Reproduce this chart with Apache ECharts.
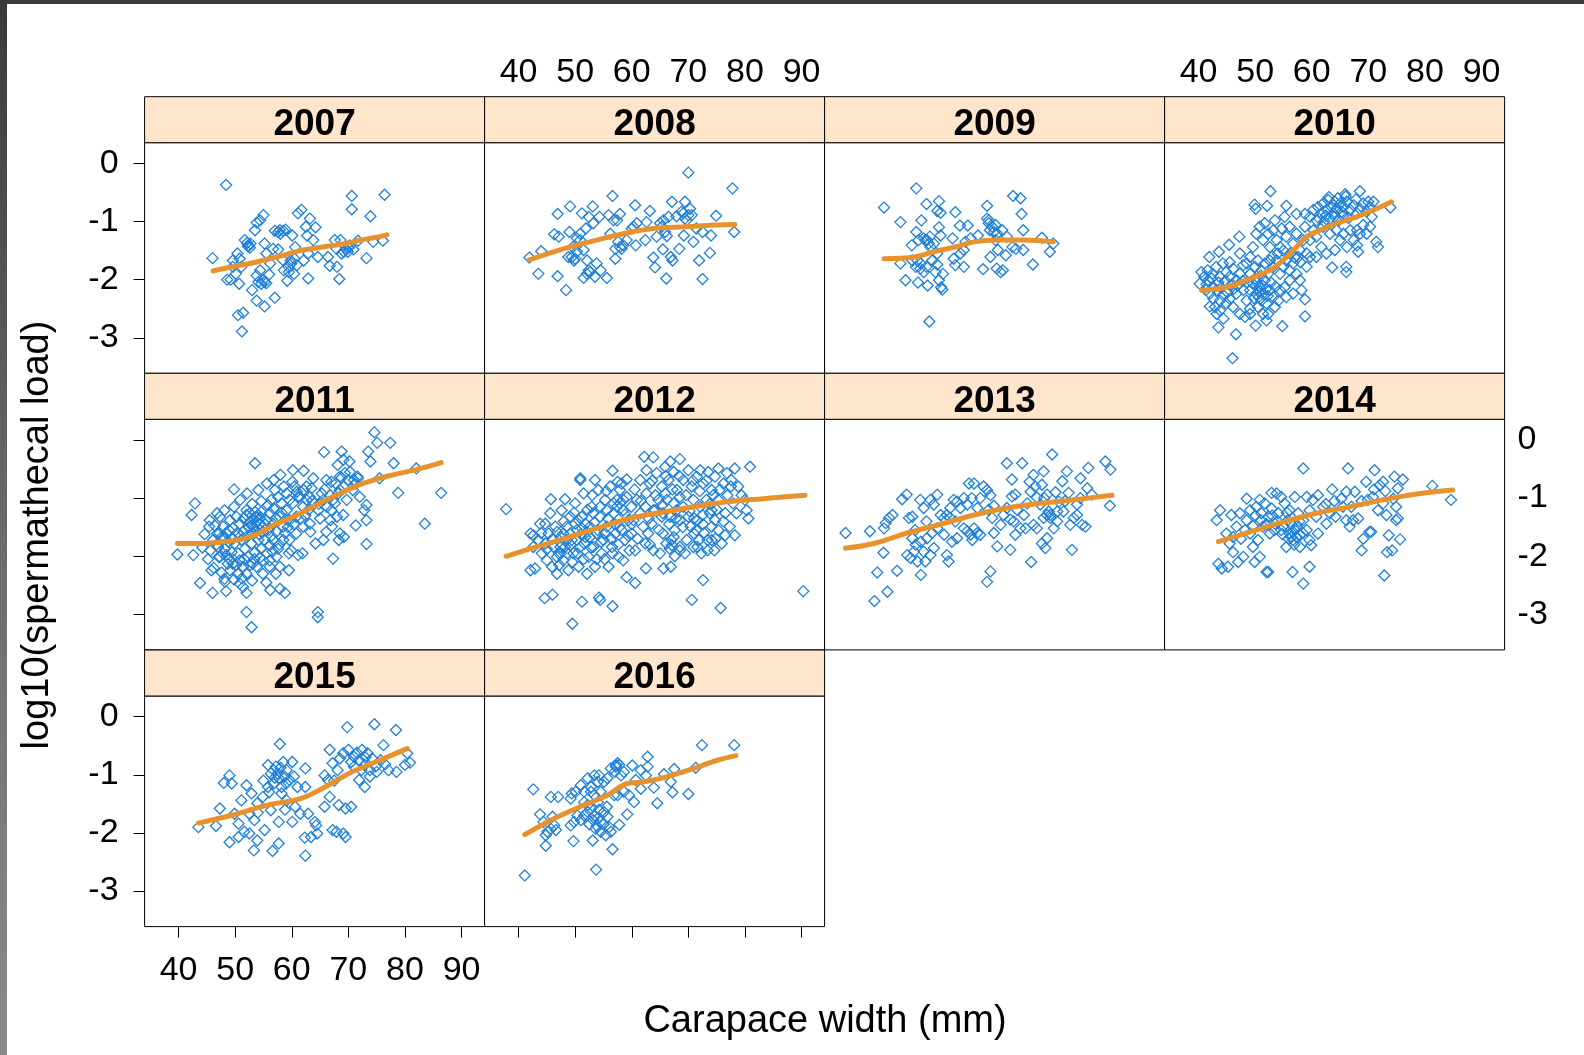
<!DOCTYPE html>
<html>
<head>
<meta charset="utf-8">
<script src="https://cdn.jsdelivr.net/npm/echarts@6/dist/echarts.min.js"></script>
<style>
html,body{margin:0;padding:0;background:#fff;}
#chart{width:1584px;height:1055px;}
</style>
</head>
<body>
<div id="chart"></div>
<script>
// ---------------- DATA ----------------
const years = ['2007','2008','2009','2010','2011','2012','2013','2014','2015','2016'];
const xTicks = [40,50,60,70,80,90];
const yTicks = [0,-1,-2,-3];
const xTitle = 'Carapace width (mm)';
const yTitle = 'log10(spermathecal load)';

const d2007 = [[48.4,-0.37],[46.0,-1.63],[48.6,-2.00],[49.2,-2.00],[49.6,-1.67],[50.4,-1.55],[50.7,-2.07],[50.5,-2.61],[51.4,-2.57],[51.2,-2.89],[51.7,-1.32],[52.3,-1.41],[52.7,-1.38],[53.5,-1.15],[53.8,-1.02],[53.0,-2.18],[53.8,-2.36],[54.4,-0.98],[55.0,-0.89],[55.2,-1.38],[55.2,-2.46],[55.5,-1.55],[54.4,-1.84],[54.9,-2.01],[55.5,-2.06],[56.0,-1.91],[56.2,-1.72],[56.7,-1.47],[57.0,-1.16],[57.6,-1.18],[57.0,-2.31],[57.6,-1.48],[58.0,-1.21],[58.4,-1.66],[58.6,-1.84],[58.9,-1.14],[59.2,-2.02],[59.4,-1.78],[59.8,-1.67],[60.1,-1.24],[60.4,-1.90],[60.6,-1.44],[60.9,-1.75],[61.1,-0.86],[61.7,-0.80],[62.1,-1.67],[62.5,-1.09],[62.7,-1.24],[62.9,-1.55],[62.9,-1.98],[63.2,-0.95],[63.8,-1.32],[64.2,-1.10],[64.6,-1.61],[66.4,-1.61],[66.7,-1.76],[67.6,-1.32],[68.0,-1.78],[68.4,-1.99],[68.6,-1.32],[69.2,-1.52],[69.6,-1.48],[70.1,-1.45],[70.6,-0.56],[70.6,-0.79],[70.9,-1.48],[71.7,-1.33],[73.2,-1.63],[73.9,-0.91],[74.4,-1.35],[76.1,-1.33],[76.4,-0.54],[52.3,-1.43],[52.6,-1.45],[52.1,-1.37],[54.1,-2.04],[54.6,-2.07],[55.2,-2.04],[53.8,-1.93],[57.9,-1.15],[58.5,-1.16],[59.5,-1.87],[59.9,-1.72],[60.5,-1.64],[67.9,-1.47],[68.8,-1.55],[69.9,-1.52],[70.2,-1.41],[49.6,-1.78],[50.1,-1.90],[51.1,-1.78],[50.8,-1.64]];
const s2007 = [[46.1,-1.85],[50,-1.77],[53.2,-1.71],[56,-1.64],[58.5,-1.58],[61.5,-1.5],[64,-1.46],[67.4,-1.41],[70,-1.37],[72.1,-1.32],[74.5,-1.28],[76.8,-1.23]];

const d2008 = [[41.9,-1.62],[43.5,-1.90],[44.0,-1.51],[46.9,-0.87],[46.9,-1.94],[46.3,-1.22],[47.1,-1.26],[48.4,-2.18],[49.1,-0.74],[49.0,-1.18],[49.6,-1.44],[48.8,-1.61],[49.8,-1.67],[50.3,-1.29],[50.9,-1.21],[51.2,-0.86],[51.9,-1.12],[52.4,-0.92],[51.5,-1.49],[52.1,-1.67],[51.5,-1.97],[52.4,-1.84],[53.1,-0.74],[53.5,-1.95],[53.8,-1.72],[53.2,-1.03],[54.3,-0.92],[54.5,-1.84],[55.6,-1.97],[55.9,-0.89],[56.2,-1.21],[56.6,-0.56],[56.8,-0.98],[57.1,-1.64],[57.1,-1.47],[57.6,-1.35],[57.9,-0.87],[58.2,-1.47],[59.1,-1.32],[60.0,-1.12],[60.6,-0.72],[60.7,-1.41],[60.9,-1.03],[62.4,-1.32],[62.6,-1.01],[63.2,-0.82],[63.8,-1.62],[64.1,-1.79],[64.4,-1.26],[65.0,-1.03],[65.5,-1.48],[65.6,-0.98],[66.1,-1.98],[66.2,-1.25],[66.5,-0.92],[67.1,-0.66],[66.9,-1.61],[67.2,-1.67],[67.9,-0.91],[68.4,-1.47],[68.8,-0.83],[69.2,-1.24],[69.4,-0.66],[69.7,-0.98],[70.0,-0.16],[70.3,-0.78],[70.6,-0.89],[70.9,-1.35],[71.4,-1.12],[71.9,-1.67],[72.5,-1.99],[72.5,-1.18],[73.8,-1.54],[74.0,-1.24],[74.9,-0.90],[77.8,-0.43],[78.1,-1.18],[49.4,-1.61],[50.0,-1.64],[50.3,-1.52],[50.9,-1.32],[52.6,-1.87],[52.1,-1.90],[57.4,-0.98],[57.9,-1.44],[58.5,-1.41],[60.3,-1.09],[65.3,-1.09],[65.9,-1.18],[69.1,-0.86],[70.0,-0.89],[69.4,-0.95]];
const s2008 = [[41.9,-1.66],[47.9,-1.47],[53.8,-1.32],[58.5,-1.21],[63.8,-1.12],[69.7,-1.09],[74.4,-1.06],[78.2,-1.05]];

const d2009 = [[44.5,-0.76],[47.4,-1.01],[50.2,-0.43],[51.1,-0.98],[52.0,-0.70],[54.2,-0.65],[53.9,-0.82],[54.5,-0.85],[57.1,-0.84],[57.9,-1.07],[59.3,-1.07],[62.7,-0.73],[67.3,-0.56],[68.6,-0.60],[68.8,-0.87],[69.1,-1.15],[72.4,-1.28],[49.4,-1.41],[50.2,-1.18],[50.6,-1.32],[51.5,-1.29],[52.1,-1.32],[52.6,-1.26],[52.7,-1.44],[53.3,-1.38],[54.2,-1.10],[54.5,-1.24],[53.9,-1.55],[47.4,-1.72],[48.3,-2.01],[49.5,-1.67],[50.1,-1.78],[50.5,-2.05],[51.0,-1.72],[51.5,-1.87],[52.0,-1.78],[52.2,-2.10],[53.0,-1.67],[53.6,-1.87],[53.9,-1.74],[54.2,-2.01],[54.6,-2.13],[54.8,-2.17],[54.9,-1.90],[52.5,-2.72],[56.6,-1.29],[56.8,-1.64],[57.1,-1.75],[58.0,-1.55],[58.6,-1.78],[58.6,-1.49],[58.9,-1.35],[59.8,-1.29],[61.1,-1.24],[62.0,-1.82],[62.7,-0.95],[63.0,-1.03],[63.3,-1.61],[63.9,-1.18],[64.2,-1.32],[64.4,-1.81],[64.6,-1.49],[65.1,-1.87],[65.4,-1.15],[65.5,-1.84],[66.0,-1.58],[66.2,-1.26],[67.2,-1.44],[67.8,-1.47],[69.1,-1.49],[70.8,-1.74],[73.8,-1.52],[74.4,-1.38],[63.0,-0.98],[63.6,-1.09],[64.2,-1.06],[63.2,-1.15],[64.5,-1.21],[51.8,-1.32],[52.4,-1.38],[50.4,-1.67],[50.9,-1.81]];
const s2009 = [[44.5,-1.64],[49.2,-1.62],[53.3,-1.52],[57.4,-1.43],[60.4,-1.35],[64.5,-1.32],[69.2,-1.32],[74.4,-1.35]];

const d2010 = [[52.7,-0.48],[49.9,-0.71],[50.1,-0.78],[52.1,-0.73],[55.5,-0.73],[57.3,-0.87],[58.8,-0.87],[65.9,-0.53],[68.5,-0.48],[73.9,-0.76],[71.4,-1.35],[71.7,-1.44],[68.2,-1.52],[68.0,-1.41],[66.1,-1.78],[66.1,-1.87],[63.6,-1.79],[58.8,-2.34],[58.8,-2.63],[54.8,-2.80],[52.0,-2.70],[50.1,-2.79],[46.6,-2.94],[46.0,-3.35],[43.5,-2.82],[42.0,-2.46],[40.5,-1.87],[41.9,-1.61],[43.6,-1.52],[45.4,-1.40],[47.2,-1.26],[47.3,-1.55],[40.2,-2.07],[45.5,-1.70],
[41.0,-1.95],[41.6,-1.84],[42.5,-1.90],[43.1,-1.78],[43.7,-1.95],[44.3,-1.72],[44.9,-1.87],[45.5,-1.95],[46.1,-1.81],[46.7,-2.01],[47.3,-1.90],[47.9,-1.75],[48.5,-1.72],[49.1,-1.90],[41.3,-2.18],[42.0,-2.24],[42.6,-2.33],[43.2,-2.18],[43.8,-2.36],[44.4,-2.27],[44.9,-2.41],[45.5,-2.33],[46.1,-2.47],[43.2,-2.59],[43.8,-2.53],[44.4,-2.67],[42.9,-2.47],[42.6,-2.13],[41.7,-2.01],[46.7,-2.24],[47.9,-2.18],[48.5,-2.36],[49.1,-2.50],[47.3,-2.59],[48.2,-2.64],[49.1,-2.59],
[49.1,-2.18],[49.6,-2.07],[50.2,-2.24],[50.8,-2.13],[51.4,-2.24],[51.7,-2.01],[51.1,-2.36],[50.5,-2.47],[52.0,-2.41],[52.6,-2.18],[53.2,-2.30],[53.5,-2.47],[54.1,-2.36],[54.4,-2.18],[52.3,-2.59],[51.4,-2.59],[49.1,-1.90],[50.0,-1.78],[50.5,-1.67],[51.1,-1.84],[51.7,-1.72],[52.3,-1.90],[52.6,-1.67],[53.2,-1.78],[53.8,-1.67],[54.4,-1.90],[55.0,-1.78],[55.5,-1.67],[56.1,-1.84],[56.7,-1.72],[57.3,-1.90],[57.9,-2.01],[58.2,-2.18],[57.6,-1.61],[56.1,-2.01],[55.2,-2.13],[55.5,-2.30],[56.7,-2.24],
[50.2,-1.21],[50.8,-1.09],[51.7,-1.03],[51.4,-1.32],[52.3,-1.21],[52.6,-1.44],[53.2,-1.15],[53.5,-0.98],[53.8,-1.32],[54.4,-1.44],[54.7,-1.12],[55.2,-0.92],[55.5,-1.26],[56.1,-1.09],[56.7,-1.38],[57.3,-1.21],[57.9,-1.49],[58.5,-1.32],[58.8,-1.09],[59.1,-1.55],[49.6,-1.44],[49.1,-1.61],
[59.7,-0.92],[60.3,-0.80],[60.8,-0.98],[61.1,-0.75],[61.7,-0.86],[62.0,-0.69],[62.6,-0.80],[62.9,-0.63],[63.5,-0.75],[63.8,-0.86],[64.1,-0.66],[64.4,-0.78],[65.0,-0.69],[65.3,-0.83],[65.6,-0.75],[66.2,-0.66],[66.8,-0.80],[67.4,-0.72],[68.0,-0.86],[68.5,-0.78],[69.1,-0.69],[69.7,-0.83],[70.3,-0.75],[70.6,-0.92],[70.0,-0.66],[70.9,-0.66],[60.3,-1.15],[60.8,-1.26],[61.7,-1.44],[62.0,-1.09],[62.6,-1.55],[63.2,-1.21],[64.1,-1.49],[64.4,-1.15],[65.0,-1.32],[65.6,-1.21],[66.2,-1.44],[66.8,-1.15],[67.4,-1.32],[68.0,-1.15],[68.5,-1.21],[69.1,-1.06],[69.7,-1.21],[70.3,-1.09],[59.7,-1.61],[59.1,-1.78],[59.7,-1.32],[60.8,-1.61],
[50.3,-2.05],[50.9,-2.20],[51.3,-2.10],[50.6,-2.30],[51.9,-2.16],[52.2,-2.28],[49.8,-2.32],[50.0,-1.98],[51.0,-1.93],[52.8,-2.05],[53.6,-2.12],[48.6,-2.05],[47.8,-2.02],[46.9,-2.10],[45.9,-2.08],[44.7,-2.02],[43.5,-2.05],[42.3,-1.98],[41.4,-2.08],[44.0,-2.14],[45.1,-2.22],[46.2,-2.16],[62.5,-0.90],[63.2,-0.95],[64.0,-0.92],[64.8,-0.98],[65.5,-0.90],[66.5,-0.94],[61.3,-0.95],[62.2,-1.00],[63.0,-0.58],[64.6,-0.60],[66.0,-0.57],[67.8,-0.62],[56.2,-1.55],[55.0,-1.50],[54.0,-1.55],[53.0,-1.60],[57.0,-1.62],[58.0,-1.70]];
const s2010 = [[40.5,-2.18],[44.9,-2.13],[49.1,-1.98],[52.6,-1.84],[54.9,-1.67],[57.3,-1.44],[59.1,-1.26],[61.4,-1.15],[64.4,-1.03],[67.9,-0.92],[71.4,-0.78],[74.1,-0.66]];

const d2011 = [[39.8,-1.97],[42.6,-1.98],[42.3,-1.29],[42.9,-1.09],[43.8,-2.46],[45.8,-2.24],[46.0,-2.63],[48.4,-2.60],[52.0,-2.63],[52.0,-2.96],[52.9,-3.22],[53.5,-0.40],[49.8,-0.85],[57.9,-2.56],[58.8,-2.63],[64.6,-2.96],[64.6,-3.05],[65.7,-0.21],[67.3,-2.04],[68.8,-0.20],[73.5,-0.20],[74.6,0.13],[75.1,-0.05],[77.4,-0.05],[73.9,-0.37],[78.0,-0.40],[73.2,-1.79],[73.2,-1.38],[83.5,-1.44],[86.4,-0.91],[82.0,-0.49],[78.8,-0.91],[75.5,-0.66],[60.2,-0.52],[62.1,-0.53],[63.8,-0.66],[66.1,-0.69],[67.0,-0.72],[68.1,-0.43],[70.2,-0.37],[71.0,-0.69],[71.6,-0.63],[69.1,-0.34],[72.8,-1.21],[71.3,-1.47],[69.2,-1.67],[68.3,-1.72],[67.1,-1.49],[65.6,-1.72],[64.2,-1.78],[63.3,-1.58],[61.9,-1.95],[59.5,-1.95],[59.5,-2.24],[57.2,-2.30],[56.1,-2.18],[54.9,-2.07],[53.1,-2.13],[50.5,-2.30],[48.1,-2.39],[48.7,-2.13],[47.1,-2.01],[45.6,-1.90],[46.8,-1.61],[45.4,-1.49],[46.8,-1.26],[48.1,-1.21],[49.8,-1.15],[50.9,-1.03],[52.1,-0.92],[54.1,-0.86],[55.6,-0.75],[56.8,-0.69],[58.0,-0.60],[58.6,-0.80],[60.1,-0.72],[60.9,-0.89],[62.1,-0.86],[63.5,-0.83],[65.3,-0.92],[67.3,-1.03],[68.5,-0.86],[69.7,-1.03],[70.8,-0.86],[72.0,-0.98],[73.2,-1.12],
[45.5,-1.38],[46.4,-1.47],[47.3,-1.32],[47.9,-1.49],[48.5,-1.61],[49.1,-1.38],[49.6,-1.52],[50.2,-1.32],[50.8,-1.44],[51.4,-1.58],[52.0,-1.29],[52.6,-1.41],[53.2,-1.49],[53.8,-1.32],[54.4,-1.44],[54.9,-1.58],[55.5,-1.38],[56.1,-1.26],[56.7,-1.44],[57.3,-1.58],[57.9,-1.32],[58.5,-1.49],[59.1,-1.21],[59.6,-1.38],[60.2,-1.09],[60.8,-1.32],[61.4,-0.98],[62.0,-1.15],[62.6,-1.03],
[46.1,-1.72],[47.0,-1.84],[47.6,-1.67],[48.2,-1.87],[48.8,-1.75],[49.4,-1.93],[49.9,-1.78],[50.5,-1.95],[51.1,-1.72],[51.7,-1.87],[52.3,-2.01],[52.9,-1.78],[53.5,-1.93],[54.1,-1.72],[54.6,-1.87],[55.2,-1.72],[56.1,-1.81],[56.7,-1.72],[57.6,-1.87],[58.5,-1.72],[59.6,-1.72],[60.8,-1.61],[62.0,-1.49],[63.2,-1.44],
[47.3,-2.01],[48.5,-1.98],[49.6,-2.13],[50.8,-2.07],[51.4,-2.18],[52.0,-2.30],[49.1,-2.24],[48.2,-2.44],[50.8,-2.47],[51.4,-2.53],[53.8,-2.18],[54.9,-2.30],[56.1,-2.07],[57.3,-2.01],[57.9,-2.18],[59.9,-1.90],[61.1,-1.98],
[52.6,-1.26],[53.5,-1.24],[54.1,-1.29],[53.2,-1.35],[53.8,-1.41],[54.4,-1.35],[52.9,-1.47],[52.0,-1.21],[54.6,-1.24],
[56.4,-1.03],[57.0,-0.86],[57.6,-0.98],[58.2,-1.09],[59.1,-0.92],[59.6,-1.03],[60.5,-0.80],[61.1,-0.98],[62.6,-0.80],[63.2,-0.98],[64.1,-1.09],[64.7,-1.21],[65.6,-1.03],[66.2,-1.15],[67.0,-1.21],[67.6,-1.09],[68.2,-0.92],[69.1,-0.80],[69.4,-0.57],[70.0,-0.69],[70.3,-0.55],[71.2,-0.75],[71.7,-0.66],[68.5,-0.63],[68.0,-1.32],[69.1,-1.29],[66.8,-1.38],[65.0,-1.35],[66.1,-1.58],[68.5,-1.61],
[51.5,-1.35],[52.4,-1.50],[53.0,-1.60],[53.6,-1.55],[54.2,-1.62],[54.8,-1.50],[55.3,-1.45],[55.9,-1.55],[56.4,-1.65],[52.2,-1.65],[51.0,-1.65],[50.4,-1.60],[49.6,-1.70],[48.9,-1.55],[48.0,-1.68],[47.2,-1.60],[46.7,-1.80],[47.8,-1.95],[49.0,-2.05],[50.2,-2.15],[51.6,-2.05],[52.6,-2.15],[53.4,-2.05],[54.4,-2.02],[55.6,-1.95],[56.6,-1.92],[57.8,-1.80],[58.8,-1.60],[59.3,-1.50],[60.4,-1.45],[61.6,-1.35],[62.4,-1.30],[63.0,-1.20],[63.6,-1.05],[64.8,-1.10],[65.8,-0.85],[66.8,-0.95],[67.8,-0.75],[68.8,-0.65],[53.0,-1.10],[54.6,-1.05],[55.8,-1.12],[56.8,-1.18],[57.2,-1.35],[58.2,-1.25],[44.6,-1.62],[44.2,-1.85],[45.2,-2.05],[46.2,-2.20],[47.6,-2.28],[49.8,-2.40],[51.2,-2.38],[53.0,-2.42],[55.5,-2.45],[56.2,-2.58]];
const s2011 = [[39.8,-1.78],[43.8,-1.78],[47.9,-1.75],[51.4,-1.70],[53.8,-1.62],[56.7,-1.47],[59.6,-1.35],[62.6,-1.21],[65.5,-1.06],[68.5,-0.92],[71.4,-0.79],[74.4,-0.69],[77.9,-0.60],[82.0,-0.51],[86.4,-0.39]];

const d2012 = [[37.8,-1.19],[42.1,-2.24],[42.9,-2.21],[44.6,-2.72],[46.0,-2.66],[49.5,-3.16],[51.2,-2.78],[54.2,-2.71],[54.4,-2.75],[56.6,-2.86],[59.1,-2.36],[60.6,-2.46],[62.5,-2.21],[65.6,-2.21],[66.9,-2.18],[70.6,-2.75],[72.6,-2.41],[75.7,-2.89],[90.3,-2.60],[80.9,-0.46],[62.2,-0.29],[63.8,-0.30],[68.5,-0.33],[66.8,-0.37],[50.9,-0.69],[50.9,-0.66],[53.5,-0.69],[56.6,-0.53],[59.1,-0.68],[45.7,-1.02],[48.2,-1.02],[42.6,-1.64],[44.7,-1.44],[57.9,-0.86],
[61.5,-0.69],[62.6,-0.52],[63.2,-0.75],[64.4,-0.57],[65.3,-0.80],[65.9,-0.46],[66.5,-0.69],[67.4,-0.55],[68.0,-0.86],[69.1,-0.69],[70.0,-0.52],[70.6,-0.80],[71.5,-0.63],[72.1,-0.52],[72.6,-0.75],[73.5,-0.55],[74.1,-0.86],[74.7,-0.63],[75.3,-0.49],[76.2,-0.75],[76.8,-0.57],[77.6,-0.69],[78.2,-0.49],[78.8,-0.80],[79.4,-0.95],[80.0,-1.03],[80.3,-1.21],[80.6,-1.35],[77.9,-1.09],[78.5,-1.26],[77.3,-1.49],[78.2,-1.64],[76.5,-1.26],[75.3,-1.03],[74.1,-1.21],[74.7,-1.38],[75.3,-1.55],[74.1,-1.72],[75.9,-1.78],[73.4,-1.90],[72.3,-1.95],[71.6,-1.84],[71.0,-1.61],[70.4,-1.49],[70.0,-1.32],[69.1,-1.15],[68.5,-1.38],[67.6,-1.55],[67.0,-1.72],[66.7,-1.87],[66.1,-1.78],[65.5,-1.61],[65.3,-1.32],[64.7,-1.03],[64.1,-1.21],[63.5,-1.44],[62.9,-1.61],[62.0,-1.49],[61.5,-1.26],[60.9,-1.03],[60.3,-1.38],[60.0,-1.61],[60.6,-1.90],[70.9,-1.03],[72.1,-1.15],[73.2,-1.03],[73.8,-1.26],[69.7,-1.72],[70.9,-1.84],[68.5,-1.84],[74.1,-1.49],[63.8,-1.90],[62.4,-1.78],[67.4,-1.09],[68.5,-0.98],[65.9,-0.92],[62.6,-0.92],
[42.1,-1.61],[42.6,-1.84],[43.5,-1.72],[43.8,-1.44],[44.1,-1.95],[44.7,-1.78],[45.0,-2.07],[45.3,-1.61],[45.6,-1.26],[45.9,-2.18],[46.2,-1.84],[46.5,-1.49],[46.8,-2.30],[47.1,-1.95],[47.4,-1.67],[47.6,-1.21],[47.9,-2.07],[48.2,-1.84],[48.5,-1.49],[48.8,-2.24],[49.1,-1.32],[49.4,-1.72],[49.7,-1.95],[50.0,-1.09],[50.3,-1.55],[50.6,-2.18],[50.9,-1.84],[51.2,-1.32],[51.5,-0.92],[51.8,-1.67],[52.1,-2.30],[52.4,-2.01],[52.6,-1.49],[52.9,-1.15],[53.2,-1.84],[53.5,-2.18],[53.8,-1.61],[54.1,-0.86],[54.4,-1.32],[54.7,-1.95],[55.0,-1.72],[55.3,-1.03],[55.6,-1.49],[55.9,-2.18],[56.2,-0.80],[56.5,-1.84],[56.8,-1.26],[57.1,-1.61],[57.4,-1.03],[57.7,-2.01],[57.9,-1.49],[58.2,-0.75],[58.5,-1.21],[58.8,-1.72],[59.1,-0.98],[59.4,-1.38],[59.6,-1.90],[59.9,-1.15],[58.5,-2.07],
[50.0,-1.44],[50.6,-1.38],[51.2,-1.52],[51.8,-1.44],[52.1,-1.58],[52.6,-1.67],[49.1,-1.61],[48.5,-1.72],[47.9,-1.61],[47.4,-1.84],[46.8,-2.01],[50.3,-1.72],[57.4,-1.15],[57.9,-1.09],[58.5,-1.03],[56.8,-1.09],[55.6,-1.21],[54.4,-1.15],[53.2,-1.26],[63.8,-1.21],[65.5,-1.26],[66.8,-1.32],[67.9,-1.21],[66.2,-1.03],[71.6,-1.38],[72.5,-1.29],[71.0,-1.35],[67.1,-1.81],[67.4,-1.67],[68.5,-1.90],[71.9,-1.72],[73.4,-1.72],[74.6,-1.90],[76.5,-1.64],
[46.0,-1.70],[46.8,-1.58],[47.5,-1.95],[48.0,-1.40],[48.6,-1.95],[49.2,-1.80],[49.8,-1.25],[50.4,-1.95],[51.0,-1.62],[51.6,-1.78],[52.2,-1.20],[52.8,-1.85],[53.4,-1.42],[54.0,-1.55],[54.6,-1.75],[55.2,-1.60],[55.8,-1.35],[56.4,-1.70],[57.0,-1.45],[57.6,-1.80],[58.2,-1.55],[58.8,-1.28],[59.4,-1.65],[60.0,-1.45],[47.2,-2.15],[49.5,-2.10],[51.5,-2.05],[53.8,-2.05],[55.2,-2.05],[56.6,-1.95],[44.0,-1.60],[45.0,-1.88],[53.0,-0.95],[55.5,-0.88],[57.5,-0.72],[60.5,-0.85],[61.6,-1.05],[62.4,-1.15],[63.0,-1.35],[63.6,-0.70],[64.2,-0.95],[64.8,-1.55],[65.4,-1.12],[66.0,-0.62],[66.6,-1.45],[67.2,-0.85],[67.8,-1.35],[68.4,-0.62],[69.0,-1.50],[69.6,-0.95],[70.2,-1.22],[70.8,-0.70],[71.4,-1.55],[72.0,-0.88],[72.6,-1.45],[73.2,-0.70],[73.8,-1.10],[74.4,-0.95],[75.0,-1.20],[75.6,-0.85],[76.2,-1.40],[76.9,-0.95],[77.5,-0.80],[61.0,-1.70],[63.2,-1.80],[65.0,-1.95],[67.6,-2.00],[69.4,-1.95],[72.8,-1.60],[74.8,-1.70]];
const s2012 = [[37.8,-2.00],[42.1,-1.87],[47.9,-1.70],[53.8,-1.52],[59.6,-1.35],[65.6,-1.24],[71.5,-1.14],[77.4,-1.06],[83.2,-1.01],[90.6,-0.95]];

const d2013 = [[37.7,-1.60],[42.0,-1.57],[42.8,-2.77],[43.3,-2.28],[45.1,-2.61],[44.4,-1.94],[46.8,-2.25],[44.5,-1.52],[44.8,-1.43],[45.4,-1.34],[46.0,-1.29],[47.7,-1.02],[48.5,-0.94],[48.9,-1.34],[49.5,-1.32],[50.9,-1.03],[51.5,-1.17],[52.7,-1.03],[53.9,-0.94],[53.3,-1.11],[49.5,-1.69],[48.6,-1.98],[49.2,-2.03],[49.8,-1.92],[50.4,-2.09],[51.0,-2.32],[51.5,-1.92],[51.8,-2.09],[52.7,-1.98],[53.3,-1.86],[50.1,-1.80],[51.0,-1.75],[52.1,-1.69],[53.0,-1.60],[53.9,-1.52],[54.5,-1.29],[55.1,-1.63],[55.6,-1.98],[55.9,-2.09],[56.2,-1.17],[56.8,-1.03],[57.4,-1.06],[58.0,-1.17],[58.6,-1.00],[59.2,-1.11],[59.5,-0.75],[60.4,-0.75],[58.6,-1.52],[59.2,-1.57],[59.8,-1.63],[60.4,-1.52],[61.0,-1.60],[61.5,-1.63],[60.1,-1.72],[61.0,-1.17],[61.5,-1.00],[62.1,-0.80],[62.7,-0.86],[63.3,-0.95],[63.9,-1.13],[63.6,-1.34],[62.7,-2.44],[63.3,-2.26],[63.9,-1.60],[64.5,-1.83],[65.1,-1.46],[65.6,-1.29],[66.2,-1.17],[66.2,-0.40],[66.8,-1.89],[67.1,-0.68],[67.7,-0.94],[68.0,-1.20],[67.7,-1.63],[68.6,-1.52],[68.9,-0.40],[69.2,-1.29],[69.5,-1.52],[69.8,-1.09],[70.4,-0.89],[70.5,-2.10],[70.9,-0.60],[71.5,-0.99],[72.1,-1.11],[72.4,-0.77],[72.7,-0.54],[73.0,-1.86],[73.3,-0.94],[73.6,-1.23],[73.9,-1.34],[74.2,-0.25],[74.5,-1.52],[75.1,-1.23],[75.4,-1.06],[76.0,-0.71],[76.2,-1.23],[76.8,-0.54],[77.1,-0.91],[77.7,-1.89],[78.0,-1.34],[78.6,-1.11],[79.2,-1.00],[79.2,-0.66],[79.5,-1.46],[80.1,-1.49],[80.6,-0.48],[80.4,-0.83],[81.2,-0.94],[83.6,-0.37],[84.5,-0.51],[84.4,-1.13],[73.3,-1.29],[72.7,-1.34],[73.9,-1.29],[67.1,-0.97],[70.9,-1.46],[71.5,-1.52],[75.1,-1.40],[77.4,-1.46],[78.6,-1.29],[72.4,-1.78],[73.3,-1.69],[66.8,-1.37],[67.4,-1.40],[55.6,-1.29],[56.2,-1.34],[57.1,-1.40],[57.4,-1.69],[56.5,-1.75],[55.1,-1.34],[70.2,-0.72],[71.2,-0.80],[72.8,-1.00],[74.8,-0.90],[76.5,-1.05],[63.0,-1.20],[60.0,-1.00],[52.0,-1.40],[50.0,-1.55]];
const s2013 = [[37.7,-1.86],[42.7,-1.78],[48.6,-1.60],[54.5,-1.45],[60.4,-1.29],[66.2,-1.17],[72.1,-1.09],[78.0,-1.03],[84.8,-0.95]];

const d2014 = [[58.5,-0.49],[66.4,-0.49],[71.1,-0.52],[81.3,-0.79],[84.6,-1.03],[43.8,-1.21],[43.2,-1.38],[45.8,-1.29],[48.5,-1.01],[50.8,-1.03],[52.9,-0.91],[43.5,-2.13],[44.1,-2.21],[45.2,-2.18],[46.1,-1.93],[47.0,-2.10],[47.9,-2.01],[49.9,-2.10],[50.8,-2.01],[52.0,-2.27],[52.3,-2.27],[56.6,-2.27],[58.5,-2.47],[59.6,-2.18],[68.8,-1.90],[69.1,-1.70],[70.2,-1.58],[70.5,-1.58],[72.8,-2.33],[73.3,-1.93],[74.2,-1.90],[73.6,-1.64],[75.6,-1.71],[63.6,-0.85],[65.2,-1.01],[66.1,-0.89],[67.6,-0.89],[69.6,-0.72],[72.0,-0.78],[72.6,-0.72],[74.6,-0.63],[76.1,-0.68],[75.2,-0.83],[74.4,-1.01],[74.9,-1.15],[69.9,-1.03],[70.8,-0.98],[71.7,-1.21],[72.6,-1.09],[73.2,-1.29],[74.9,-1.38],[75.2,-1.35],[64.2,-1.32],[65.5,-1.15],[66.7,-1.49],[67.3,-1.38],[68.2,-1.35],[66.1,-1.38],[62.6,-1.44],[63.2,-1.26],[62.0,-1.15],[60.8,-1.32],[60.2,-1.03],[59.6,-1.21],[61.1,-1.61],[59.9,-1.81],
[50.2,-1.15],[51.1,-1.26],[51.7,-1.09],[52.3,-1.32],[52.9,-1.18],[53.5,-1.44],[54.1,-1.26],[54.6,-1.55],[55.2,-1.09],[55.8,-1.38],[56.1,-1.61],[56.7,-1.72],[57.3,-1.49],[57.9,-1.64],[58.5,-1.38],[59.1,-1.55],[57.0,-0.98],[56.1,-1.21],[57.6,-1.26],[52.6,-1.61],[51.4,-1.49],[50.5,-1.72],[49.6,-1.84],[49.1,-1.61],[48.5,-1.38],[47.3,-1.26],[46.7,-1.49],[46.1,-1.67],[45.5,-1.78],[44.9,-1.61],[49.1,-1.21],[54.6,-0.98],[53.8,-0.92],[55.5,-1.84],[57.9,-1.84],[56.7,-1.58],[57.3,-1.67],[56.4,-1.67],[59.6,-1.72],[61.1,-0.95],[59.1,-0.98],
[53.0,-1.30],[54.0,-1.40],[55.0,-1.48],[55.6,-1.25],[56.4,-1.45],[57.0,-1.55],[57.8,-1.40],[58.4,-1.60],[56.9,-1.80],[55.9,-1.70],[54.8,-1.62],[53.4,-1.55],[52.0,-1.45],[51.0,-1.38],[50.0,-1.30],[49.6,-1.48],[48.2,-1.55],[47.5,-1.70],[62.5,-1.10],[64.0,-1.05],[67.0,-1.15],[68.8,-1.05],[71.0,-0.85],[73.0,-0.88]];
const s2014 = [[43.5,-1.75],[49.1,-1.58],[55.0,-1.41],[60.8,-1.26],[66.7,-1.15],[72.6,-1.03],[78.5,-0.93],[84.9,-0.86]];

const d2015 = [[43.5,-1.90],[46.6,-1.88],[47.3,-1.58],[48.0,-1.14],[49.0,-1.01],[49.4,-1.15],[49.0,-2.16],[50.6,-2.07],[49.9,-1.67],[50.6,-1.84],[51.6,-1.98],[52.5,-2.01],[52.0,-1.18],[52.9,-1.32],[53.9,-1.49],[54.9,-1.38],[55.8,-1.21],[53.3,-2.30],[53.9,-2.13],[56.6,-2.31],[57.7,-2.18],[57.9,-0.47],[55.8,-0.83],[56.3,-0.98],[57.2,-0.86],[57.7,-1.06],[58.5,-0.78],[59.1,-0.92],[60.1,-0.78],[60.4,-1.03],[61.0,-1.21],[56.8,-1.15],[58.2,-1.32],[59.1,-1.44],[60.6,-1.55],[61.5,-1.67],[60.1,-1.81],[57.7,-1.81],[56.3,-1.61],[62.4,-0.89],[62.4,-1.21],[62.9,-1.67],[64.1,-1.81],[64.3,-1.87],[64.5,-2.01],[63.4,-2.07],[62.3,-2.08],[62.4,-2.39],[65.8,-1.01],[66.4,-1.09],[66.7,-0.57],[67.2,-0.80],[68.1,-0.92],[65.8,-1.55],[66.7,-1.38],[67.2,-1.95],[67.9,-1.98],[69.1,-2.01],[69.5,-2.07],[68.3,-1.52],[69.5,-1.58],[70.5,-1.55],[69.8,-0.18],[69.1,-0.63],[70.0,-0.57],[71.0,-0.69],[71.9,-0.75],[72.9,-0.83],[73.8,-0.92],[74.8,-0.86],[75.7,-0.75],[71.0,-0.86],[72.4,-0.57],[73.4,-0.63],[74.6,-0.13],[76.2,-0.49],[78.4,-0.23],[77.1,-0.92],[78.5,-0.95],[80.0,-0.83],[80.9,-0.79],[80.4,-0.63],[72.9,-1.21],[71.9,-1.09],[73.8,-1.03],[56.8,-0.92],[57.5,-0.98],[58.7,-1.03],[59.6,-1.09],[58.2,-1.21],[51.1,-1.44],[52.5,-1.67],[53.4,-1.78],[57.0,-1.05],[58.0,-0.88],[59.0,-1.15],[56.0,-1.30],[55.0,-1.10],[54.0,-1.65],[55.2,-1.95],[58.8,-1.60],[70.5,-0.78],[71.5,-0.62],[72.3,-0.92],[73.0,-0.70],[74.2,-0.72],[75.0,-0.95],[76.5,-0.82],[68.5,-0.72],[67.5,-1.10]];
const s2015 = [[43.5,-1.83],[49.2,-1.70],[55.8,-1.52],[61.5,-1.41],[65.3,-1.24],[70.0,-0.98],[74.8,-0.78],[80.4,-0.55]];

const d2016 = [[41.1,-2.73],[42.6,-1.25],[43.8,-1.68],[44.4,-1.81],[44.8,-2.04],[45.1,-1.98],[45.7,-1.93],[46.3,-1.87],[46.6,-1.95],[44.8,-2.22],[45.7,-1.38],[47.0,-1.38],[46.0,-1.72],[49.2,-1.87],[49.7,-2.14],[49.8,-1.81],[50.4,-1.70],[49.2,-1.41],[49.4,-1.32],[50.1,-1.29],[51.0,-1.18],[51.6,-1.47],[51.6,-1.29],[52.2,-1.06],[52.8,-1.21],[53.4,-1.01],[54.0,-1.12],[54.2,-1.01],[54.5,-1.29],[52.2,-1.64],[52.8,-1.58],[53.4,-1.70],[54.0,-1.75],[54.5,-1.81],[55.1,-1.64],[55.7,-1.72],[56.0,-1.90],[56.3,-1.98],[55.4,-2.04],[54.5,-1.98],[53.6,-1.93],[53.1,-2.13],[53.7,-2.63],[56.6,-2.28],[57.8,-1.86],[59.2,-1.68],[55.1,-1.12],[55.7,-1.06],[56.3,-0.89],[56.9,-1.35],[57.2,-0.83],[57.5,-0.80],[58.1,-1.01],[58.6,-0.95],[60.1,-0.84],[60.7,-1.09],[60.4,-1.47],[61.6,-0.92],[61.6,-1.24],[62.8,-0.69],[62.5,-1.01],[62.8,-0.86],[63.9,-1.22],[64.5,-1.49],[65.7,-0.99],[66.9,-1.12],[67.2,-1.30],[67.5,-0.90],[70.0,-1.33],[71.3,-0.88],[72.4,-0.49],[78.1,-0.49],[57.5,-1.35],[58.6,-1.29],[59.5,-1.35],[52.8,-1.29],[53.4,-1.35],[54.0,-1.47],[52.2,-1.52],[51.6,-1.70],[51.0,-1.78],[57.8,-0.83],[57.2,-0.86],[52.5,-1.85],[53.2,-1.78],[54.2,-1.60],[53.8,-1.88],[55.0,-1.85],[55.6,-1.55],[57.0,-0.95]];
const s2016 = [[41.1,-2.03],[45.7,-1.78],[51.6,-1.52],[55.7,-1.35],[59.2,-1.15],[62.2,-1.12],[66.3,-1.03],[71.0,-0.89],[75.1,-0.75],[78.4,-0.67]];

const pointSets = [d2007,d2008,d2009,d2010,d2011,d2012,d2013,d2014,d2015,d2016];
const smoothSets = [s2007,s2008,s2009,s2010,s2011,s2012,s2013,s2014,s2015,s2016];

// ---------------- LAYOUT / STYLE ----------------
const colLeft = [144.6, 484.6, 824.6, 1164.6];
const stripTop = [96.7, 373.3, 650];
const PW = 340, SH = 46, PH = 230.6;
const FONT = '"Liberation Sans", Arial, Helvetica, sans-serif';
const PT_COLOR = '#1f80d8';
const LINE_COLOR = '#e8922e';
const STRIP_FILL = '#ffe5cc';

const chart = echarts.init(document.getElementById('chart'), null, {renderer:'canvas'});

const grids = [], xAxes = [], yAxes = [], series = [], graphics = [];

// frame edges of the screenshot
graphics.push({type:'rect', shape:{x:0,y:0,width:1584,height:4}, style:{fill:'#3a3a3a'}, silent:true, z:100});
graphics.push({type:'rect', shape:{x:0,y:0,width:7,height:1055},
  style:{fill:new echarts.graphic.LinearGradient(0,0,0,1,[{offset:0,color:'#3a3a3a'},{offset:0.5,color:'#6a6a6a'},{offset:1,color:'#8a8a8a'}])}, silent:true, z:100});

const labelStyle = {color:'#000', fontSize:34, fontFamily:FONT};

years.forEach((yr, i) => {
  const row = Math.floor(i/4), col = i%4;
  const left = colLeft[col];
  const sTop = stripTop[row];
  const top = sTop + SH;
  grids.push({left:left, top:top, width:PW, height:PH, show:true, borderColor:'#000', borderWidth:1, backgroundColor:'#fff', containLabel:false});

  const x = {type:'value', gridIndex:i, min:34, max:94.07, position:'bottom',
    splitLine:{show:false}, axisLine:{show:false, onZero:false},
    axisTick:{show:false, customValues:xTicks, length:11, inside:false, lineStyle:{color:'#000', width:1}},
    axisLabel:Object.assign({show:false, customValues:xTicks, margin:27}, labelStyle)};
  if (i === 1 || i === 3) { x.position = 'top'; x.axisLabel.show = true; x.axisLabel.margin = 53; }
  if (i === 8) { x.axisTick.show = true; x.axisLabel.show = true; }
  if (i === 9) { x.axisTick.show = true; }
  xAxes.push(x);

  const y = {type:'value', gridIndex:i, min:-3.61, max:0.355, position:'left',
    splitLine:{show:false}, axisLine:{show:false, onZero:false},
    axisTick:{show:false, customValues:yTicks, length:11, inside:false, lineStyle:{color:'#000', width:1}},
    axisLabel:Object.assign({show:false, customValues:yTicks, margin:26}, labelStyle)};
  if (i === 0 || i === 8) { y.axisTick.show = true; y.axisLabel.show = true; }
  if (i === 4) { y.axisTick.show = true; }
  if (i === 7) { y.position = 'right'; y.axisLabel.show = true; y.axisLabel.margin = 13; }
  yAxes.push(y);

  series.push({type:'scatter', xAxisIndex:i, yAxisIndex:i, data:pointSets[i],
    symbol:'diamond', symbolSize:11,
    itemStyle:{color:'rgba(0,0,0,0)', borderColor:PT_COLOR, borderWidth:1.3, opacity:1},
    emphasis:{disabled:true}, z:2});
  series.push({type:'line', xAxisIndex:i, yAxisIndex:i, data:smoothSets[i],
    smooth:0.4, showSymbol:false, symbol:'none',
    lineStyle:{color:LINE_COLOR, width:5, cap:'round', join:'round'}, emphasis:{disabled:true}, z:3});

  // strip
  graphics.push({type:'rect', shape:{x:left, y:sTop, width:PW, height:SH},
    style:{fill:STRIP_FILL, stroke:'#000', lineWidth:1}, silent:true, z:10});
  graphics.push({type:'text', x:left+PW/2, y:sTop+SH/2+5,
    style:{text:yr, fill:'#000', font:'bold 37px ' + FONT, align:'center', verticalAlign:'middle'}, silent:true, z:11});
});

// axis titles
graphics.push({type:'text', x:825, y:1022,
  style:{text:xTitle, fill:'#000', font:'38px ' + FONT, align:'center', verticalAlign:'middle'}, silent:true, z:11});
graphics.push({type:'text', x:38, y:535, rotation:Math.PI/2,
  style:{text:yTitle, fill:'#000', font:'38px ' + FONT, align:'center', verticalAlign:'middle'}, silent:true, z:11});

chart.setOption({
  backgroundColor:'#fff',
  animation:false,
  grid:grids,
  xAxis:xAxes,
  yAxis:yAxes,
  series:series,
  graphic:graphics
});
</script>
</body>
</html>
